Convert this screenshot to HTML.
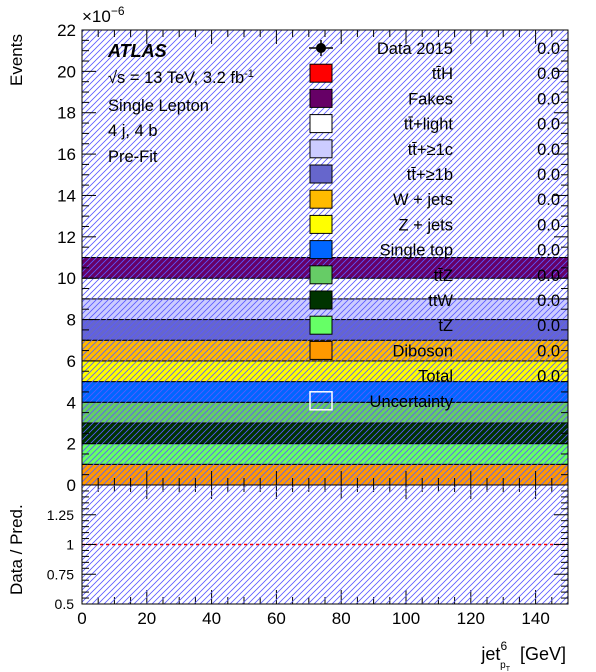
<!DOCTYPE html>
<html><head><meta charset="utf-8"><style>
body{margin:0;background:#fff}
svg{display:block;font-family:"Liberation Sans",sans-serif}
</style></head><body>
<svg id="c" width="596" height="672" viewBox="0 0 596 672">
<defs>
<pattern id="hatch" patternUnits="userSpaceOnUse" width="6" height="6">
<path d="M-1,7 L7,-1 M-1,1 L1,-1 M5,7 L7,5" stroke="#5a5aff" stroke-width="0.8"/>
</pattern>
<clipPath id="mainclip"><rect x="82" y="30" width="486" height="455"/></clipPath>
</defs>
<g id="main"></g>
<g id="ratio"></g>
<g id="legend"></g>
<g font-size="16.5">
<text x="108" y="57" font-weight="bold" font-style="italic" font-size="18">ATLAS</text>
<text x="108" y="83">√s = 13 TeV, 3.2 fb<tspan dy="-6" font-size="11">-1</tspan></text>
<text x="108" y="111">Single Lepton</text>
<text x="108" y="136">4 j, 4 b</text>
<text x="108" y="162">Pre-Fit</text>
</g>
<text x="22" y="86" transform="rotate(-90 22 86)" font-size="17">Events</text>
<text x="22" y="595" transform="rotate(-90 22 595)" font-size="17">Data / Pred.</text>
<text x="82" y="22" font-size="17">×10<tspan dy="-7" font-size="12">−6</tspan></text>
<text x="566" y="660" text-anchor="end" font-size="18">jet<tspan dy="-10" font-size="12">6</tspan><tspan dx="-7" dy="18" font-size="10">p</tspan><tspan dy="3" font-size="7">T</tspan><tspan dx="10" dy="-11">[GeV]</tspan></text>
</svg>
<script>
const categories=["Diboson","tZ","ttW","ttZ","Single top","Z + jets","W + jets","tt+≥1b","tt+≥1c","tt+light","Fakes","ttH"];
const values=[1,1,1,1,1,1,1,1,1,1,1,0];
const colors=["#ff9900","#66ff66","#003300","#66cc66","#0066ff","#ffff00","#ffbb00","#6666cc","#ccccff","#ffffff","#660066","#ff0000"];
const legendLabels=["Data 2015","tt̄H","Fakes","tt̄+light","tt̄+≥1c","tt̄+≥1b","W + jets","Z + jets","Single top","tt̄Z","ttW","tZ","Diboson","Total","Uncertainty"];
const legendValues=["0.0","0.0","0.0","0.0","0.0","0.0","0.0","0.0","0.0","0.0","0.0","0.0","0.0","0.0",""];
const legendColors=[null,"#ff0000","#660066","#ffffff","#ccccff","#6666cc","#ffbb00","#ffff00","#0066ff","#66cc66","#003300","#66ff66","#ff9900",null,"hatch"];
const yTicks=[0,2,4,6,8,10,12,14,16,18,20,22];
const xTicks=[0,20,40,60,80,100,120,140];
const rTicks=[0.5,0.75,1,1.25];
const ratioRef=1;
const NS="http://www.w3.org/2000/svg";
const X0=82,X1=568,Y0=485,Y1=30,YMAX=22,XMAX=150,RY0=604,RY1=485,RMIN=0.5,RMAX=1.5;
const sx=v=>X0+(X1-X0)*v/XMAX;
const sy=v=>Y0-(Y0-Y1)*v/YMAX;
const ry=v=>RY0-(RY0-RY1)*(v-RMIN)/(RMAX-RMIN);
function mk(tag,attrs,parent){const e=document.createElementNS(NS,tag);for(const k in attrs)e.setAttribute(k,attrs[k]);parent.appendChild(e);return e;}
const main=document.getElementById('main'),ratio=document.getElementById('ratio'),leg=document.getElementById('legend');
const mg=mk('g',{'clip-path':'url(#mainclip)'},main);
let cum=0;
categories.forEach((c,i)=>{
 if(values[i]>0){
  const r=mk('rect',{x:X0,y:sy(cum+values[i]),width:X1-X0,height:sy(cum)-sy(cum+values[i]),fill:colors[i],stroke:'#000','stroke-width':1},mg);
  
  
 }
 cum+=values[i];
});
const h1=mk('rect',{x:X0,y:Y1,width:X1-X0,height:Y0-Y1,fill:'url(#hatch)'},main);


const h2=mk('rect',{x:X0,y:RY1,width:X1-X0,height:RY0-RY1,fill:'url(#hatch)'},ratio);


const rl=mk('line',{x1:X0,x2:X1,y1:ry(ratioRef),y2:ry(ratioRef),stroke:'#ff0000','stroke-width':1.5,'stroke-dasharray':'3,3'},ratio);


mk('rect',{x:X0,y:Y1,width:X1-X0,height:Y0-Y1,fill:'none',stroke:'#000','stroke-width':1},main);
mk('rect',{x:X0,y:RY1,width:X1-X0,height:RY0-RY1,fill:'none',stroke:'#000','stroke-width':1},ratio);
for(let v=0;v<=YMAX+1e-9;v+=0.5){const maj=Math.abs(v%2)<1e-9;const L=maj?14:7;
 mk('line',{x1:X0,x2:X0+L,y1:sy(v),y2:sy(v),stroke:'#000'},main);
 mk('line',{x1:X1,x2:X1-L,y1:sy(v),y2:sy(v),stroke:'#000'},main);}
yTicks.forEach(v=>{const t=mk('text',{x:X0-6,y:sy(v)+6,'text-anchor':'end','font-size':17},main);t.textContent=v;
 
 });
for(let v=RMIN;v<=RMAX+1e-9;v+=0.05){const maj=Math.abs((v*4)-Math.round(v*4))<1e-6;const L=maj?14:7;
 mk('line',{x1:X0,x2:X0+L,y1:ry(v),y2:ry(v),stroke:'#000'},ratio);
 mk('line',{x1:X1,x2:X1-L,y1:ry(v),y2:ry(v),stroke:'#000'},ratio);}
rTicks.forEach(v=>{const t=mk('text',{x:X0-8,y:ry(v)+5,'text-anchor':'end','font-size':14},ratio);t.textContent=v;
 
 });
for(let v=0;v<=XMAX;v+=5){const maj=v%20===0;const L=maj?14:7;
 [[Y0,-1],[Y1,1],[RY0,-1],[RY1,1]].forEach(([y,d])=>mk('line',{x1:sx(v),x2:sx(v),y1:y,y2:y+d*L,stroke:'#000'},main));}
xTicks.forEach(v=>{const t=mk('text',{x:sx(v),y:624,'text-anchor':'middle','font-size':17},ratio);t.textContent=v;
 
 });
legendLabels.forEach((lab,i)=>{
 const y=48+i*25.2;
 const g=mk('g',{},leg);
 
 
 const c=legendColors[i];
 if(i===0){mk('line',{x1:309,x2:333,y1:y,y2:y,stroke:'#000','stroke-width':1.5},g);mk('circle',{cx:321,cy:y,r:5,fill:'#000'},g);mk('line',{x1:321,x2:321,y1:y-8,y2:y+8,stroke:'#000','stroke-width':1.5},g);}
 else if(c==='hatch'){mk('rect',{x:310,y:y-9,width:22,height:18,fill:'url(#hatch)',stroke:'#fff','stroke-width':1.5},g);}
 else if(c){mk('rect',{x:310,y:y-9,width:22,height:18,fill:c,stroke:'#000','stroke-width':1},g);}
 const t=mk('text',{x:453,y:y+6,'text-anchor':'end','font-size':16.5},g);t.textContent=lab;
 if(legendValues[i]){const v=mk('text',{x:560,y:y+6,'text-anchor':'end','font-size':16.5},g);v.textContent=legendValues[i];}
});
</script>
</body></html>
